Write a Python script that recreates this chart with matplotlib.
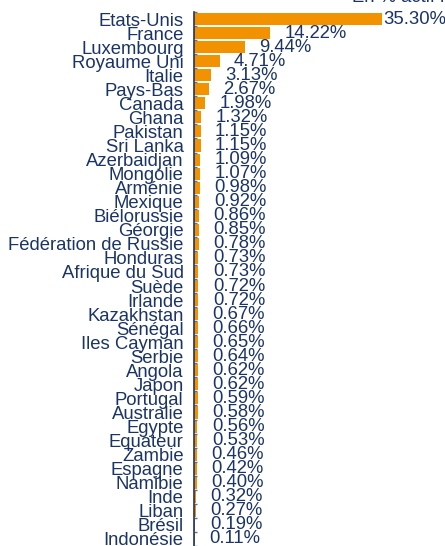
# import modules
import matplotlib
matplotlib.use('Agg')
import matplotlib.pyplot as plt

# country names, top to bottom
countries = ['Etats-Unis', 'France', 'Luxembourg', 'Royaume Uni', 'Italie', 'Pays-Bas',
             'Canada', 'Ghana', 'Pakistan', 'Sri Lanka', 'Azerbaidjan', 'Mongolie',
             'Arménie', 'Mexique', 'Biélorussie', 'Géorgie', 'Fédération de Russie',
             'Honduras', 'Afrique du Sud', 'Suède', 'Irlande', 'Kazakhstan', 'Sénégal',
             'Iles Cayman', 'Serbie', 'Angola', 'Japon', 'Portugal', 'Australie',
             'Egypte', 'Equateur', 'Zambie', 'Espagne', 'Namibie', 'Inde', 'Liban',
             'Brésil', 'Indonésie']

# share of net assets in percent
weights = [35.30, 14.22, 9.44, 4.71, 3.13, 2.67, 1.98, 1.32, 1.15, 1.15, 1.09, 1.07,
           0.98, 0.92, 0.86, 0.85, 0.78, 0.73, 0.73, 0.72, 0.72, 0.67, 0.66, 0.65,
           0.64, 0.62, 0.62, 0.59, 0.58, 0.56, 0.53, 0.46, 0.42, 0.40, 0.32, 0.27,
           0.19, 0.11]

title_text = 'En % actif net'

navy = '#1b3466'
orange = '#f39200'
fsize = 13.3
plt.rcParams['font.family'] = ['Liberation Sans', 'DejaVu Sans']

fig = plt.figure(figsize=(4.45, 5.46), dpi=100)
# axes placed so the value axis starts at x=194 px and rows fill the height
ax = fig.add_axes([194 / 445, 0, 251 / 445, 534 / 546])

pos = list(range(len(countries)))
ax.barh(pos, weights, height=0.86, color=orange, left=0.08)
ax.set_ylim(len(countries) - 0.5, -0.5)
ax.set_xlim(0, 251 / 5.326)

# category labels, ticks drawn at row boundaries
ax.set_yticks(pos)
ax.set_yticklabels(countries, fontsize=fsize, color=navy)
ax.tick_params(axis='y', which='major', length=0, pad=7.5)
ax.set_yticks([p - 0.5 for p in pos] + [len(countries) - 0.5], minor=True)
ax.tick_params(axis='y', which='minor', length=2.5, direction='in', color='#5a6f96', width=1)

ax.set_xticks([])
for side in ['top', 'right', 'bottom']:
    ax.spines[side].set_visible(False)
ax.spines['left'].set_color(navy)
ax.spines['left'].set_linewidth(1.2)

# value labels after each bar, the biggest one squeezed against the right edge
for p, w in zip(pos, weights):
    off = 1 if w > 30 else 15
    ax.annotate('%.2f%%' % w, xy=(w, p), xytext=(off, 0), textcoords='offset pixels',
                ha='left', va='center', fontsize=fsize, color=navy, annotation_clip=False)

# title at the top right, partly cut off by the figure edge
fig.text(352 / 445, 1 - 2 / 546, title_text, ha='left', va='baseline',
         fontsize=fsize, color=navy)

fig.savefig('out.png', dpi=100)
